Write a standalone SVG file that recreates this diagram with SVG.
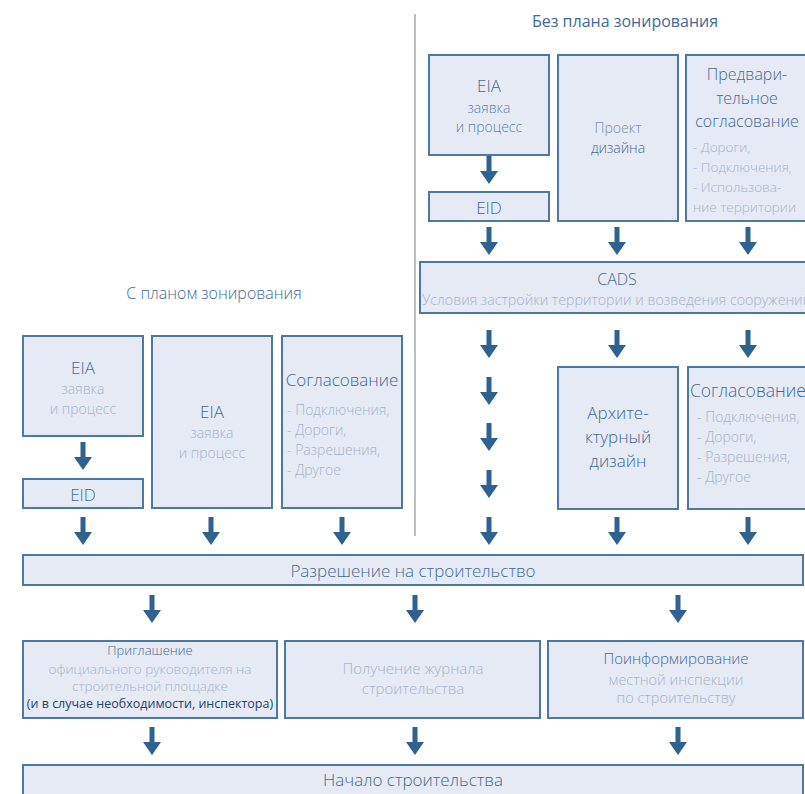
<svg xmlns="http://www.w3.org/2000/svg" xmlns:xlink="http://www.w3.org/1999/xlink" width="805" height="794" viewBox="0 0 805 794">
<style>
  .box{fill:#e6eaf5;stroke:#4d78a2;stroke-width:2}
  text{font-family:"Open Sans","Noto Sans","DejaVu Sans",sans-serif;font-weight:300}
  .t{fill:#3f6a94}
  .g{fill:#a6b4c9}
  .c{text-anchor:middle}
  .arr{fill:#2f6191}
</style>
<defs>
  <path id="a" class="arr" d="M-2.5,0 H2.5 V15 H9 L0,28 L-9,15 H-2.5 Z"/>
</defs>
<rect width="805" height="794" fill="#ffffff"/>
<line x1="415" y1="14" x2="415" y2="536" stroke="#a9a9a9" stroke-width="1.5"/>

<text class="t c" x="625" y="27" font-size="16" style="font-weight:400">Без плана зонирования</text>
<text class="t c" x="214" y="299" font-size="16">С планом зонирования</text>

<g id="r-eia">
  <rect class="box" x="429" y="55" width="120" height="100"/>
  <text class="t c" x="489" y="92" font-size="17">EIA</text>
  <text class="t c" x="489" y="113" font-size="14" fill-opacity="0.85">заявка</text>
  <text class="t c" x="489" y="132" font-size="14" fill-opacity="0.85">и процесс</text>
</g>
<g id="r-eid">
  <rect class="box" x="429" y="192" width="120" height="29"/>
  <text class="t c" x="489" y="214" font-size="17">EID</text>
</g>
<g id="r-proj">
  <rect class="box" x="558" y="55" width="120" height="166"/>
  <text class="c" x="618" y="133" font-size="14" fill="#7890ae">Проект</text>
  <text class="t c" x="618" y="153" font-size="14">дизайна</text>
</g>
<g id="r-pre">
  <rect class="box" x="686" y="55" width="125" height="166"/>
  <text class="t c" x="747" y="80" font-size="16">Предвари-</text>
  <text class="t c" x="747" y="104" font-size="16">тельное</text>
  <text class="t c" x="747" y="127" font-size="16">согласование</text>
  <text class="g" x="693" y="152" font-size="13.5">- Дороги,</text>
  <text class="g" x="693" y="172" font-size="13.5">- Подключения,</text>
  <text class="g" x="693" y="192" font-size="13.5">- Использова-</text>
  <text class="g" x="693" y="212" font-size="13.5">ние территории</text>
</g>
<g id="r-cads">
  <rect class="box" x="420" y="262" width="392" height="51"/>
  <text class="t c" x="617" y="285" font-size="16">CADS</text>
  <text class="g" x="422" y="305" font-size="14.2">Условия застройки территории и возведения сооружений</text>
</g>
<g id="r-arch">
  <rect class="box" x="558" y="367" width="120" height="142"/>
  <text class="t c" x="618" y="419" font-size="17">Архите-</text>
  <text class="t c" x="618" y="443" font-size="17">ктурный</text>
  <text class="t c" x="618" y="467" font-size="17">дизайн</text>
</g>
<g id="r-agr">
  <rect class="box" x="688" y="367" width="125" height="142"/>
  <text class="t" x="690" y="397" font-size="17.5">Согласование:</text>
  <text class="g" x="697" y="422" font-size="14">- Подключения,</text>
  <text class="g" x="697" y="442" font-size="14">- Дороги,</text>
  <text class="g" x="697" y="462" font-size="14">- Разрешения,</text>
  <text class="g" x="697" y="482" font-size="14">- Другое</text>
</g>

<g id="l-eia">
  <rect class="box" x="23" y="336" width="120" height="100"/>
  <text class="t c" x="83" y="374" font-size="17">EIA</text>
  <text class="g c" x="83" y="394" font-size="14">заявка</text>
  <text class="g c" x="83" y="414" font-size="14">и процесс</text>
</g>
<g id="l-eid">
  <rect class="box" x="23" y="479" width="120" height="29"/>
  <text class="t c" x="83" y="501" font-size="17">EID</text>
</g>
<g id="l-eia2">
  <rect class="box" x="152" y="336" width="120" height="172"/>
  <text class="t c" x="212" y="418" font-size="17">EIA</text>
  <text class="g c" x="212" y="438" font-size="14">заявка</text>
  <text class="g c" x="212" y="458" font-size="14">и процесс</text>
</g>
<g id="l-agr">
  <rect class="box" x="282" y="336" width="120" height="172"/>
  <text class="t c" x="342" y="386" font-size="17">Согласование</text>
  <text class="g" x="287" y="415" font-size="14">- Подключения,</text>
  <text class="g" x="287" y="435" font-size="14">- Дороги,</text>
  <text class="g" x="287" y="455" font-size="14">- Разрешения,</text>
  <text class="g" x="287" y="475" font-size="14">- Другое</text>
</g>

<g id="permit">
  <rect class="box" x="23" y="555" width="780" height="30"/>
  <text class="t c" x="413" y="577" font-size="17">Разрешение на строительство</text>
</g>
<g id="b1">
  <rect class="box" x="23" y="641" width="254" height="77"/>
  <text class="t c" x="150" y="655" font-size="13">Приглашение</text>
  <text class="g c" x="150" y="674" font-size="13.5">официального руководителя на</text>
  <text class="g c" x="150" y="691" font-size="13.5">строительной площадке</text>
  <text class="c" x="150" y="708" font-size="12.5" fill="#23446a" style="font-weight:400">(и в случае необходимости, инспектора)</text>
</g>
<g id="b2">
  <rect class="box" x="285" y="641" width="255" height="77"/>
  <text class="g c" x="413" y="674" font-size="15">Получение журнала</text>
  <text class="g c" x="413" y="694" font-size="15">строительства</text>
</g>
<g id="b3">
  <rect class="box" x="548" y="641" width="255" height="77"/>
  <text class="t c" x="676" y="664" font-size="15">Поинформирование</text>
  <text class="g c" x="676" y="685" font-size="14.5">местной инспекции</text>
  <text class="g c" x="676" y="703" font-size="14.5">по строительству</text>
</g>
<g id="start">
  <rect class="box" x="23" y="765" width="780" height="40"/>
  <text class="t c" x="413" y="786" font-size="17">Начало строительства</text>
</g>

<g id="connectors">
  <use href="#a" x="489" y="156"/>
  <use href="#a" x="489" y="227"/>
  <use href="#a" x="617" y="227"/>
  <use href="#a" x="748" y="227"/>
  <use href="#a" x="489" y="330"/>
  <use href="#a" x="617" y="330"/>
  <use href="#a" x="748" y="330"/>
  <use href="#a" x="489" y="377"/>
  <use href="#a" x="489" y="423"/>
  <use href="#a" x="489" y="470"/>
  <use href="#a" x="489" y="517"/>
  <use href="#a" x="617" y="517"/>
  <use href="#a" x="748" y="517"/>
  <use href="#a" x="83" y="442"/>
  <use href="#a" x="83" y="517"/>
  <use href="#a" x="211" y="517"/>
  <use href="#a" x="342" y="517"/>
  <use href="#a" x="152" y="595"/>
  <use href="#a" x="415" y="595"/>
  <use href="#a" x="678" y="595"/>
  <use href="#a" x="152" y="727"/>
  <use href="#a" x="415" y="727"/>
  <use href="#a" x="678" y="727"/>
</g>
</svg>
